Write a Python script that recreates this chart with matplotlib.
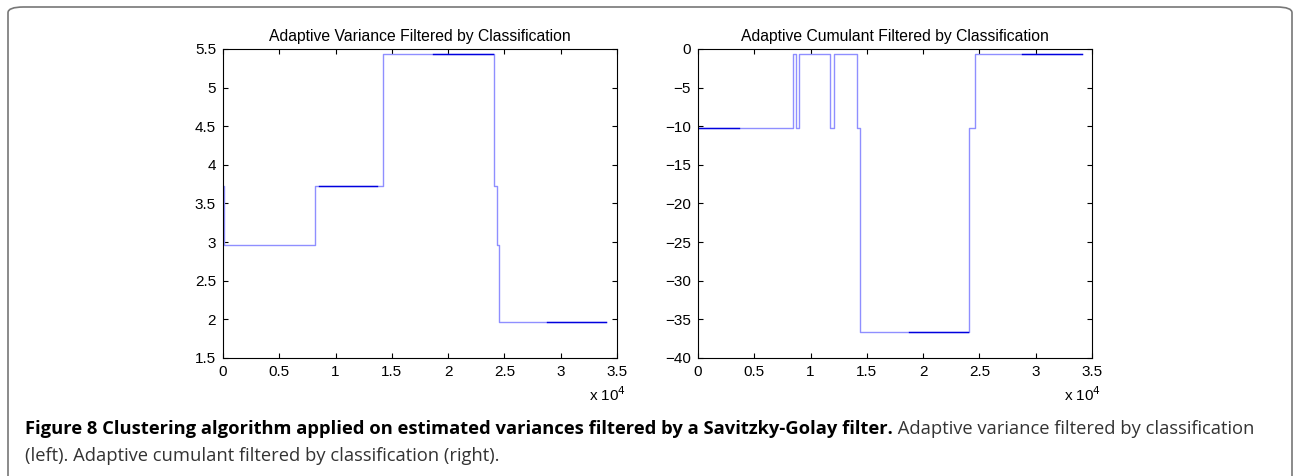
import matplotlib
matplotlib.use("Agg")
import matplotlib.pyplot as plt
from matplotlib.patches import FancyBboxPatch
from matplotlib.ticker import FuncFormatter, MultipleLocator
import numpy as np

plt.rcParams['font.family'] = ['Liberation Sans', 'DejaVu Sans']

# step changes (sample index) and levels after each change
var_x = [0, 100, 8200, 14200, 24100, 24300, 24550, 34000]
var_y = [3.73, 2.96, 3.73, 5.44, 3.73, 2.96, 1.97, 1.97]

cum_x = [0, 8400, 8700, 8950, 11750, 12100, 14100, 14350, 24100, 24650, 34100]
cum_y = [-10.27, -0.6, -10.27, -0.6, -10.27, -0.6, -10.27, -36.6, -10.27, -0.6, -0.6]

# stretches that render darker in the original
var_dark = [(8500, 13700), (18700, 24000), (28800, 34000)]
cum_dark = [(0, 3600), (18700, 24000), (28800, 34100)]

titles = ["Adaptive Variance Filtered by Classification",
          "Adaptive Cumulant Filtered by Classification"]
ylims = [(1.5, 5.5), (-40, 0)]
ysteps = [0.5, 5]

caption_bold = ("Figure 8 Clustering algorithm applied on estimated variances "
                "filtered by a Savitzky-Golay filter.")
caption_rest = " Adaptive variance filtered by classification"
caption_line2 = "(left). Adaptive cumulant filtered by classification (right)."

light = '#8f8fff'
dark = '#0000dd'


def fmt(v):
    return ('%g' % v).replace('-', '\u2212')


fig = plt.figure(figsize=(12.94, 4.76), dpi=100)
ax1 = fig.add_axes([0.1723, 0.2479, 0.3045, 0.6492])
ax2 = fig.add_axes([0.5394, 0.2479, 0.3045, 0.6492])

series = [(var_x, var_y, var_dark), (cum_x, cum_y, cum_dark)]
for i, ax in enumerate([ax1, ax2]):
    xs, ys, darks = series[i]
    ax.step(xs, ys, where='post', color=light, lw=1.0)
    for a, b in darks:
        level = ys[np.searchsorted(xs, a, side='right') - 1]
        ax.plot([a, b], [level, level], color=dark, lw=1.0)

    ax.set_xlim(0, 35000)
    ax.set_ylim(*ylims[i])
    ax.xaxis.set_major_locator(MultipleLocator(5000))
    ax.yaxis.set_major_locator(MultipleLocator(ysteps[i]))
    ax.xaxis.set_major_formatter(FuncFormatter(lambda v, p: fmt(v / 1e4)))
    ax.yaxis.set_major_formatter(FuncFormatter(lambda v, p: fmt(v)))
    ax.tick_params(direction='in', length=3.5, width=0.8, top=True, right=True,
                   labelsize=11, pad=5)
    for s in ax.spines.values():
        s.set_linewidth(0.8)
    ax.set_title(titles[i], fontsize=11.3, pad=6)
    ax.text(0.93, -0.12, r'x 10$^4$', transform=ax.transAxes, fontsize=11,
            ha='left', va='center')

# caption
cap_font = ['Open Sans', 'DejaVu Sans']
t1 = fig.text(0.0193, 0.0882, caption_bold, fontsize=13.2, fontweight='bold',
              family=cap_font, va='baseline')
fig.text(0.0193, 0.0315, caption_line2, fontsize=13.2,
         family=cap_font, va='baseline', color='#333333')
fig.canvas.draw()
bb = t1.get_window_extent().transformed(fig.transFigure.inverted())
fig.text(bb.x1, 0.0882, caption_rest, fontsize=13.2,
         family=cap_font, va='baseline', color='#333333')

# rounded frame around the figure
frame = FancyBboxPatch((8 / 1294, -0.2), 1284 / 1294, 1.2 - 7 / 476,
                       boxstyle='round,pad=0,rounding_size=0.012',
                       transform=fig.transFigure, fill=False,
                       edgecolor='#777777', lw=1.2)
fig.patches.append(frame)

fig.savefig('out.png', dpi=100)
